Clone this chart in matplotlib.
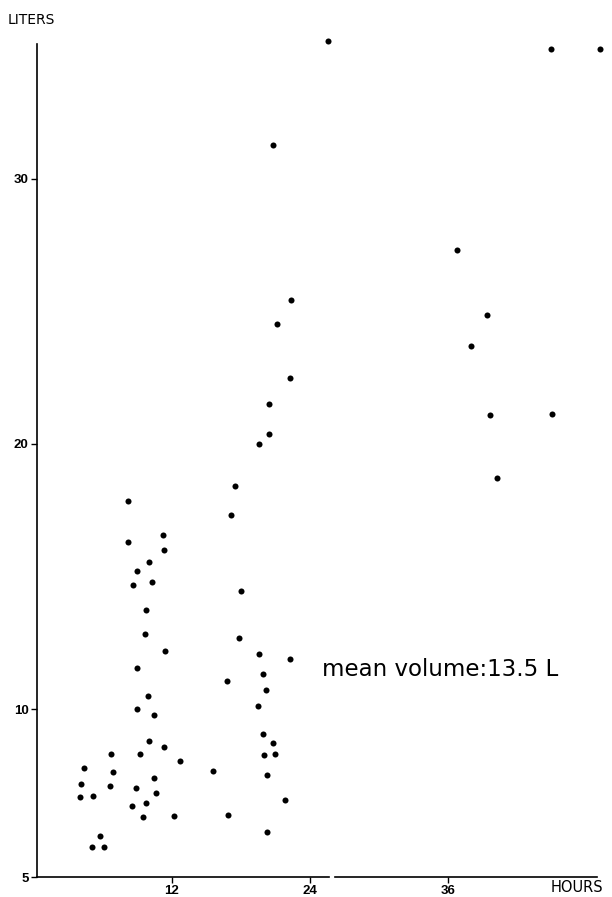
import numpy as np
import matplotlib

matplotlib.use("Agg")
import matplotlib.pyplot as plt

# blood volume (liters) vs. time (hours)
hours_a = [8.16, 11.25, 8.21, 11.31, 10.04, 8.97, 10.27, 8.62, 9.75, 9.66, 11.40, 8.94,
           9.92, 8.94, 10.45, 10.01, 11.29, 6.71, 9.20, 12.68, 4.37, 6.89, 10.42, 4.11,
           6.63, 8.91, 10.59, 4.05, 5.17, 8.51, 9.78, 9.46, 12.18, 5.73, 5.04, 6.08]
liters_a = [17.85, 16.56, 16.30, 16.00, 15.56, 15.20, 14.78, 14.67, 13.74, 12.84, 12.21, 11.54,
            10.48, 10.00, 9.84, 9.05, 8.86, 8.67, 8.67, 8.46, 8.24, 8.13, 7.95, 7.78,
            7.72, 7.64, 7.49, 7.37, 7.41, 7.13, 7.19, 6.79, 6.82, 6.23, 5.90, 5.90]

hours_b = [19.54, 17.50, 17.13, 18.03, 17.83, 19.59, 22.25, 19.88, 16.78, 20.20, 19.50,
           19.91, 20.78, 19.97, 20.93, 15.59, 20.23, 21.82, 16.87, 20.26,
           20.78, 22.37, 21.10, 22.25, 20.40, 20.43, 25.55]
liters_b = [20.01, 18.41, 17.33, 14.46, 12.70, 12.07, 11.88, 11.34, 11.05, 10.72, 10.11,
            9.25, 9.00, 8.63, 8.67, 8.15, 8.04, 7.28, 6.85, 6.34,
            31.28, 25.42, 24.54, 22.49, 21.51, 20.38, 35.20]

hours_c = [44.94, 49.17, 36.78, 39.33, 37.97, 39.65, 44.98, 40.25]
liters_c = [34.91, 34.91, 27.31, 24.88, 23.70, 21.11, 21.14, 18.71]

hours = np.array(hours_a + hours_b + hours_c)
liters = np.array(liters_a + liters_b + liters_c)

x_ticks = [12, 24, 36]
y_ticks = [5, 10, 20, 30]
note = "mean volume:13.5 L"

# the printed axis is stretched below 10 L
STRETCH = 1.2655


def fwd(y):
    y = np.asarray(y, dtype=float)
    return np.where(y >= 10, y, 10 - (10 - y) * STRETCH)


def inv(t):
    t = np.asarray(t, dtype=float)
    return np.where(t >= 10, t, 10 - (10 - t) / STRETCH)


fig = plt.figure(figsize=(6.12, 8.97), dpi=100)
ax = fig.add_axes([37 / 612, 1 - 877 / 897, 560 / 612, 833 / 897])
ax.set_yscale("function", functions=(fwd, inv))
ax.set_xlim(0.29, 48.9)
ax.set_ylim(5, 35.08)

ax.scatter(hours, liters, s=19, color="black", linewidths=0, clip_on=False, zorder=3)

for side in ("top", "right", "bottom"):
    ax.spines[side].set_visible(False)
ax.spines["left"].set_linewidth(1.2)
# bottom axis line has a small break between 24 and 36
ax.axhline(5, xmin=0, xmax=0.521, color="black", lw=1.2, clip_on=False)
ax.axhline(5, xmin=0.532, xmax=1, color="black", lw=1.2, clip_on=False)

ax.set_xticks(x_ticks)
ax.set_yticks(y_ticks)
ax.yaxis.set_minor_locator(matplotlib.ticker.NullLocator())
ax.tick_params(axis="both", length=4, width=1, pad=2, labelsize=9.5)
for lab in ax.get_xticklabels() + ax.get_yticklabels():
    lab.set_fontfamily("Liberation Sans")
    lab.set_fontweight("bold")

ax.text(25.0, 11.25, note, fontsize=16.5, family="DejaVu Sans", va="baseline", ha="left")

fig.text(8 / 612, 1 - 24 / 897, "LITERS", fontsize=10, family="DejaVu Sans",
         va="baseline", ha="left")
fig.text(551 / 612, 1 - 892 / 897, "HOURS", fontsize=10.5, family="DejaVu Sans",
         va="baseline", ha="left")

fig.savefig("out.png", dpi=100)
plt.close(fig)
